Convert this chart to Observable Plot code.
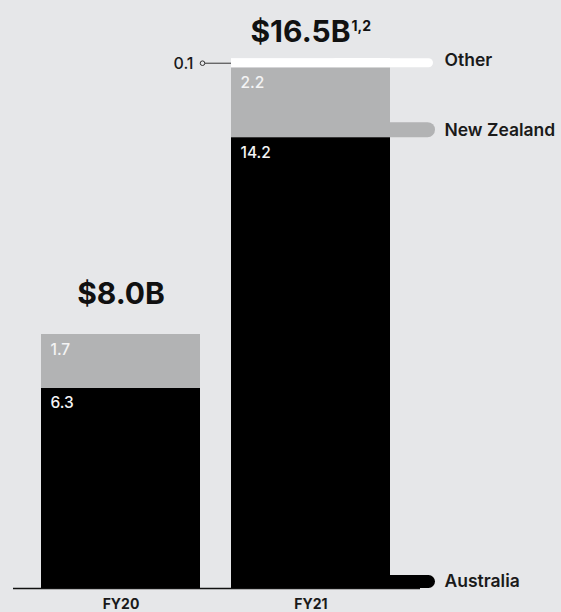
<!DOCTYPE html>
<html><head><meta charset="utf-8">
<script src="https://cdn.jsdelivr.net/npm/d3@7"></script>
<script src="https://cdn.jsdelivr.net/npm/@observablehq/plot@0.6"></script>
<style>
html,body{margin:0;padding:0;background:#e6e7e9;}
#chart{width:561px;height:612px;}
</style></head><body><div id="chart"></div>
<script>
const years = ["FY20", "FY21"];
const regions = ["Australia", "New Zealand", "Other"];
const australia = [6.3, 14.2];
const newZealand = [1.7, 2.2];
const other = [0, 0.1];
const totalLabels = ["$8.0B", "$16.5B"];
const footnotes = ["", "1,2"];
const regionColors = ["#000000", "#b2b3b4", "#ffffff"];

const series = [australia, newZealand, other];
const segments = [];
years.forEach((year, i) => {
  let base = 0;
  regions.forEach((region, j) => {
    const v = series[j][i];
    segments.push({year, region, value: v, y1: base, y2: +(base + v).toFixed(2)});
    base += v;
  });
});
const totals = years.map((year, i) => ({
  year, label: totalLabels[i], note: footnotes[i],
  value: +segments.filter(d => d.year === year).reduce((s, d) => s + d.value, 0).toFixed(2)
}));
const last = years[years.length - 1];
const lastSegs = segments.filter(d => d.year === last);
const mainSegs = segments.filter(d => d.region !== "Other" && d.value > 0);
const otherSegs = segments.filter(d => d.region === "Other" && d.value > 0);
const smallSegs = lastSegs.filter(d => d.region === "Other");

const font = "Inter, 'Liberation Sans', sans-serif";

const chart = Plot.plot({
  width: 561,
  height: 612,
  marginTop: 16.5,
  marginBottom: 24,
  marginLeft: 13,
  marginRight: 141,
  style: {background: "#e6e7e9", fontFamily: font, color: "#1a1a1a", overflow: "visible"},
  x: {domain: years, range: [41, 390], paddingInner: 31 / 190, paddingOuter: 0, round: false},
  y: {domain: [0, 18], axis: null},
  color: {domain: regions, range: regionColors},
  marks: [
    Plot.ruleY([0], {stroke: "#111", strokeWidth: 1.5}),
    // legend pills for the latest year
    Plot.barY(lastSegs.filter(d => d.region === "Australia"), {x: "year", y1: "y1", y2: "y1", fill: "region", insetTop: -13, insetLeft: 100, insetRight: -45, rx: 6.5}),
    Plot.barY(lastSegs.filter(d => d.region === "New Zealand"), {x: "year", y1: "y1", y2: "y1", fill: "region", insetTop: -15, insetLeft: 100, insetRight: -45, rx: 7.5}),
    Plot.barY(smallSegs, {x: "year", y1: "y1", y2: "y2", fill: "region", insetTop: -6, insetLeft: 100, insetRight: -43, rx: 4.5}),
    // stacked bars
    Plot.barY(mainSegs, {x: "year", y1: "y1", y2: "y2", fill: "region"}),
    Plot.barY(otherSegs, {x: "year", y1: "y1", y2: "y2", fill: "region", insetTop: -6}),
    // inner value labels
    Plot.text(mainSegs, {x: "year", y: "y2", text: d => d.value.toFixed(1), textAnchor: "start", lineAnchor: "top", dx: -70.5, dy: 9, fill: "#f4f4f4", fontSize: 15.5, fontWeight: 500}),
    // small "Other" value callout
    Plot.ruleY(smallSegs, {x1: "year", x2: "year", y: d => (d.y1 + d.y2) / 2, insetLeft: -26, insetRight: 159, stroke: "#333", strokeWidth: 1, dy: -3}),
    Plot.dot(smallSegs, {x: "year", y: d => (d.y1 + d.y2) / 2, dx: -108.5, dy: -3, r: 2.3, stroke: "#333", strokeWidth: 1, fill: "#e6e7e9"}),
    Plot.text(smallSegs, {x: "year", y: d => (d.y1 + d.y2) / 2, text: d => d.value.toFixed(1), textAnchor: "end", dx: -117.5, dy: -2.5, fontSize: 16, fontWeight: 500, fill: "#1a1a1a"}),
    // legend labels
    Plot.text(lastSegs, {x: "year", y: "y1", text: "region", textAnchor: "start", dx: 133.5, dy: -7, fontSize: 17.5, fontWeight: 600, fill: "#1a1a1a"}),
    // totals
    Plot.text(totals.slice(0, 1), {x: "year", y: "value", text: "label", dy: -40.5, fontSize: 30, fontWeight: 700, fill: "#111"}),
    Plot.text(totals.slice(1), {x: "year", y: "value", text: "label", textAnchor: "end", dx: 39.5, dy: -32.6, fontSize: 30, fontWeight: 700, fill: "#111"}),
    Plot.text(totals.slice(1), {x: "year", y: "value", text: "note", textAnchor: "start", dx: 40.5, dy: -38, fontSize: 14, fontWeight: 700, fill: "#111"}),
    Plot.axisX({tickSize: 0, tickPadding: 11, fontSize: 14, fontWeight: 700, label: null})
  ]
});
document.getElementById("chart").appendChild(chart);
</script>
</body></html>
